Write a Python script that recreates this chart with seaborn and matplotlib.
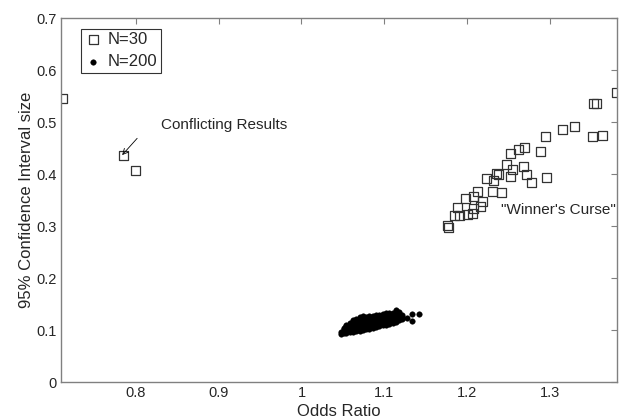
import matplotlib
matplotlib.use("Agg")
import matplotlib.pyplot as plt
import seaborn as sns
import pandas as pd

# N=30 studies (odds ratio, CI size)
n30_or = [0.712, 0.785, 0.800,
          1.380, 1.352, 1.356, 1.329, 1.315, 1.294, 1.351, 1.363,
          1.269, 1.262, 1.252, 1.288, 1.247, 1.254, 1.268, 1.235, 1.238,
          1.223, 1.232, 1.252, 1.271, 1.295, 1.277, 1.230, 1.241, 1.212,
          1.207, 1.198, 1.218, 1.216, 1.207, 1.200, 1.190, 1.188, 1.206,
          1.185, 1.176, 1.177]
n30_ci = [0.545, 0.436, 0.406,
          0.556, 0.535, 0.535, 0.492, 0.486, 0.473, 0.473, 0.474,
          0.451, 0.448, 0.440, 0.443, 0.419, 0.409, 0.414, 0.401, 0.399,
          0.392, 0.388, 0.395, 0.399, 0.393, 0.383, 0.366, 0.365, 0.367,
          0.356, 0.353, 0.347, 0.337, 0.334, 0.322, 0.321, 0.336, 0.324,
          0.320, 0.302, 0.297]

# N=200 studies (odds ratio, CI size)
n200_or = [1.048, 1.048,
           1.051, 1.051, 1.051, 1.051,
           1.054, 1.054, 1.054, 1.054, 1.054,
           1.058, 1.058, 1.058, 1.058, 1.058, 1.058,
           1.062, 1.062, 1.062, 1.062, 1.062, 1.062, 1.062,
           1.066, 1.066, 1.066, 1.066, 1.066, 1.066, 1.066,
           1.070, 1.070, 1.070, 1.070, 1.070, 1.070, 1.070, 1.070,
           1.074, 1.074, 1.074, 1.074, 1.074, 1.074, 1.074, 1.074,
           1.078, 1.078, 1.078, 1.078, 1.078, 1.078, 1.078,
           1.082, 1.082, 1.082, 1.082, 1.082, 1.082, 1.082,
           1.086, 1.086, 1.086, 1.086, 1.086, 1.086, 1.086,
           1.090, 1.090, 1.090, 1.090, 1.090, 1.090, 1.090,
           1.094, 1.094, 1.094, 1.094, 1.094, 1.094, 1.094,
           1.098, 1.098, 1.098, 1.098, 1.098, 1.098, 1.098,
           1.102, 1.102, 1.102, 1.102, 1.102, 1.102, 1.102,
           1.106, 1.106, 1.106, 1.106, 1.106, 1.106,
           1.110, 1.110, 1.110, 1.110, 1.110, 1.110,
           1.114, 1.114, 1.114, 1.114, 1.114, 1.114, 1.114,
           1.118, 1.118, 1.118, 1.118, 1.118,
           1.121, 1.121, 1.121,
           1.127, 1.133, 1.133, 1.142]
n200_ci = [0.093, 0.097,
           0.094, 0.098, 0.102, 0.105,
           0.095, 0.099, 0.103, 0.107, 0.110,
           0.096, 0.100, 0.104, 0.108, 0.112, 0.114,
           0.096, 0.100, 0.104, 0.108, 0.112, 0.116, 0.119,
           0.098, 0.102, 0.106, 0.110, 0.114, 0.118, 0.122,
           0.099, 0.103, 0.107, 0.111, 0.115, 0.119, 0.123, 0.125,
           0.100, 0.104, 0.108, 0.112, 0.116, 0.120, 0.124, 0.127,
           0.102, 0.106, 0.110, 0.114, 0.118, 0.122, 0.126,
           0.103, 0.107, 0.111, 0.115, 0.119, 0.123, 0.127,
           0.104, 0.108, 0.112, 0.116, 0.120, 0.124, 0.128,
           0.106, 0.110, 0.114, 0.118, 0.122, 0.126, 0.129,
           0.107, 0.111, 0.115, 0.119, 0.123, 0.127, 0.130,
           0.109, 0.113, 0.117, 0.121, 0.125, 0.129, 0.131,
           0.110, 0.114, 0.118, 0.122, 0.126, 0.130, 0.132,
           0.112, 0.116, 0.120, 0.124, 0.128, 0.132,
           0.114, 0.118, 0.122, 0.126, 0.130, 0.133,
           0.116, 0.120, 0.124, 0.128, 0.132, 0.135, 0.138,
           0.119, 0.123, 0.127, 0.131, 0.134,
           0.122, 0.126, 0.130,
           0.123, 0.117, 0.131, 0.131]

x_ticks = [0.8, 0.9, 1.0, 1.1, 1.2, 1.3]
x_tick_labels = ["0.8", "0.9", "1", "1.1", "1.2", "1.3"]
y_ticks = [0, 0.1, 0.2, 0.3, 0.4, 0.5, 0.6, 0.7]
y_tick_labels = ["0", "0.1", "0.2", "0.3", "0.4", "0.5", "0.6", "0.7"]

sns.set_style("white")
plt.rcParams['font.family'] = ['Liberation Sans', 'DejaVu Sans']

df30 = pd.DataFrame({"or": n30_or, "ci": n30_ci})
df200 = pd.DataFrame({"or": n200_or, "ci": n200_ci})

fig = plt.figure(figsize=(6.28, 4.19), dpi=100)
ax = fig.add_axes([0.097, 0.088, 0.885, 0.869])

sns.scatterplot(data=df30, x="or", y="ci", ax=ax, marker="s", s=42,
                facecolor="none", edgecolor="#333333", linewidth=0.9,
                label="N=30")
sns.scatterplot(data=df200, x="or", y="ci", ax=ax, marker="o", s=16,
                color="black", edgecolor="black", linewidth=0.3,
                label="N=200")

ax.set_xlim(0.71, 1.38)
ax.set_ylim(0, 0.7)
ax.set_xticks(x_ticks)
ax.set_xticklabels(x_tick_labels)
ax.set_yticks(y_ticks)
ax.set_yticklabels(y_tick_labels)
ax.tick_params(direction="in", length=4, width=0.8, color="#808080",
               top=True, right=True, labelsize=10.5, pad=3)
for sp in ax.spines.values():
    sp.set_visible(True)
    sp.set_color("#808080")
    sp.set_linewidth(1.0)

ax.set_xlabel("Odds Ratio", fontsize=12, labelpad=3)
ax.set_ylabel("95% Confidence Interval size", fontsize=12, labelpad=2)

leg = ax.legend(loc="upper left", bbox_to_anchor=(0.036, 0.970), fontsize=12,
                frameon=True, fancybox=False, edgecolor="black",
                handletextpad=0.3, borderpad=0.2, labelspacing=0.42,
                handlelength=1.1, borderaxespad=0)
leg.get_frame().set_linewidth(0.8)

ax.annotate("", xy=(0.7838, 0.4365), xytext=(0.8019, 0.4687),
            arrowprops=dict(arrowstyle="->", color="black", lw=0.6,
                            shrinkA=0, shrinkB=0))
ax.text(0.8305, 0.494, "Conflicting Results", fontsize=11, ha="left", va="center")
ax.text(1.310, 0.33, "\"Winner's Curse\"", fontsize=11, ha="center", va="center")

fig.savefig("out.png", dpi=100)
